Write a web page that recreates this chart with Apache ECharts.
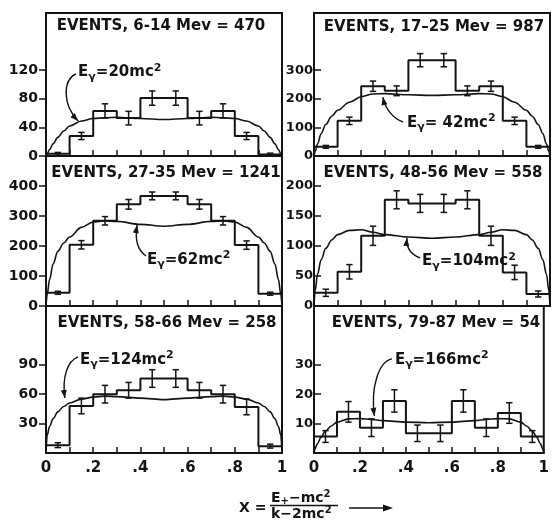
<!DOCTYPE html>
<html><head><meta charset="utf-8">
<script src="https://cdn.jsdelivr.net/npm/echarts@6/dist/echarts.min.js"></script>
<style>html,body{margin:0;padding:0;background:#fff}#c{width:552px;height:521px}</style>
</head><body><div id="c"></div>
<script>
// ---------- DATA ----------
const binEdges   = [0, 0.1, 0.2, 0.3, 0.4, 0.5, 0.6, 0.7, 0.8, 0.9, 1.0];
const binCenters = [0.05, 0.15, 0.25, 0.35, 0.45, 0.55, 0.65, 0.75, 0.85, 0.95];
const curveX     = [0, 0.005, 0.015, 0.03, 0.05, 0.075, 0.1, 0.15, 0.2, 0.25, 0.3, 0.4, 0.5,
                    0.6, 0.7, 0.75, 0.8, 0.85, 0.9, 0.925, 0.95, 0.97, 0.985, 0.995, 1];

const xTickValues  = [0.1, 0.2, 0.3, 0.4, 0.5, 0.6, 0.7, 0.8, 0.9];
const xLabelValues = [0, 0.2, 0.4, 0.6, 0.8, 1];
const xLabelTexts  = ['0', '.2', '.4', '.6', '.8', '1'];

// Panel 1: 6-14 Mev
const p1Title  = 'EVENTS, 6-14 Mev = 470';
const p1Counts = [3, 28, 63, 53, 81, 81, 53, 63, 28, 2];
const p1Errors = [2, 5, 10, 9.5, 10, 10, 9.5, 10, 5, 2];
const p1Curve  = [0, 3, 9, 17, 26, 35, 42, 49, 52.5, 53.5, 54, 52.5, 51,
                  52.5, 54, 53.5, 52.5, 49, 42, 35, 26, 17, 9, 3, 0];
const p1Max = 200, p1Ticks = [0, 40, 80, 120], p1Energy = '20';

// Panel 2: 17-25 Mev
const p2Title  = 'EVENTS, 17–25 Mev = 987';
const p2Counts = [32, 123, 244, 228, 335, 335, 228, 244, 123, 32];
const p2Errors = [5, 13, 18, 17, 23, 23, 17, 18, 13, 5];
const p2Curve  = [0, 16, 42, 78, 110, 139, 160, 188, 207, 217, 218, 214, 212,
                  214, 218, 217, 207, 188, 160, 139, 110, 78, 42, 16, 0];
const p2Max = 500, p2Ticks = [0, 100, 200, 300], p2Energy = ' 42';

// Panel 3: 27-35 Mev
const p3Title  = 'EVENTS, 27-35 Mev = 1241';
const p3Counts = [44, 204, 284, 339, 367, 367, 339, 284, 203, 41];
const p3Errors = [5, 14, 14, 16, 13, 13, 16, 14, 14, 5];
const p3Curve  = [0, 38, 88, 140, 182, 210, 230, 262, 280, 284, 282, 272, 266,
                  272, 282, 284, 280, 262, 230, 210, 182, 140, 88, 38, 0];
const p3Max = 500, p3Ticks = [0, 100, 200, 300, 400], p3Energy = '62';

// Panel 4: 48-56 Mev
const p4Title  = 'EVENTS, 48-56 Mev = 558';
const p4Counts = [22, 57, 117, 177, 171, 171, 177, 117, 56, 20];
const p4Errors = [6, 12, 16, 15, 15, 15, 15, 16, 12, 5];
const p4Curve  = [0, 26, 53, 77, 96, 110, 119, 126, 127, 123, 119, 115, 113,
                  115, 119, 123, 127, 126, 119, 110, 96, 77, 53, 26, 0];
const p4Max = 250, p4Ticks = [0, 50, 100, 150, 200], p4Energy = '104';

// Panel 5: 58-66 Mev
const p5Title  = 'EVENTS, 58-66 Mev = 258';
const p5Counts = [8, 48, 60, 64, 76, 76, 64, 60, 47, 7];
const p5Errors = [2.5, 8, 9, 8, 9, 9, 8, 9, 8, 2];
const p5Curve  = [0, 18, 27, 35, 42, 47.5, 51, 55, 57, 58, 57.5, 56, 54.5,
                  56, 57.5, 58, 57, 55, 51, 47.5, 42, 35, 27, 18, 0];
const p5Max = 150, p5Ticks = [30, 60, 90], p5Energy = '124';

// Panel 6: 79-87 Mev
const p6Title  = 'EVENTS, 79-87 Mev = 54';
const p6Counts = [5.6, 14, 8.6, 17.7, 6.7, 6.7, 17.7, 8.6, 13.6, 5.6];
const p6Errors = [2, 3.5, 3, 3.8, 2.8, 2.8, 3.8, 3, 3.5, 2];
const p6Curve  = [0, 1.5, 3.2, 5.3, 7.5, 9.2, 10.5, 11.6, 11.7, 11.4, 11, 10.5, 10.3,
                  10.5, 11, 11.4, 11.7, 11.6, 10.5, 9.2, 7.5, 5.3, 3.2, 1.5, 0];
const p6Max = 50, p6Ticks = [10, 20, 30], p6Energy = '166';

// annotation anchors in data units: text position, arrow [start, cp1, cp2, end]
const annText  = [[0.136, 117], [0.394, 115], [0.428, 153], [0.458, 74], [0.144, 95], [0.352, 31.6]];
const annArrow = [
  [[0.127, 114.7], [0.072, 106.3], [0.068, 72.7], [0.136, 49]],
  [[0.377, 118.9], [0.331, 132.9], [0.301, 167.8], [0.292, 206]],
  [[0.424, 166.7], [0.386, 186.7], [0.377, 226.7], [0.386, 270]],
  [[0.449, 80], [0.407, 86.7], [0.39, 96.7], [0.394, 113.3]],
  [[0.136, 98], [0.089, 93.9], [0.068, 76.5], [0.08, 56.1]],
  [[0.339, 32], [0.28, 31], [0.246, 22.1], [0.263, 12.6]]
];

// ---------- LAYOUT / STYLE ----------
const FONT = 'DejaVu Sans';
const INK = '#141414';
const gridPos = [
  {left: 46,  top: 13,  width: 236, height: 143},
  {left: 314, top: 13,  width: 236, height: 143},
  {left: 46,  top: 156, width: 236, height: 150},
  {left: 314, top: 156, width: 236, height: 150},
  {left: 46,  top: 306, width: 236, height: 147},
  {left: 314, top: 306, width: 236, height: 147}
];
const titlePos = [[161, 26], [434, 27], [166, 173], [433, 173], [167, 323], [436, 323]];

const panels = [
  {title: p1Title, counts: p1Counts, errors: p1Errors, curve: p1Curve, max: p1Max, ticks: p1Ticks, energy: p1Energy},
  {title: p2Title, counts: p2Counts, errors: p2Errors, curve: p2Curve, max: p2Max, ticks: p2Ticks, energy: p2Energy},
  {title: p3Title, counts: p3Counts, errors: p3Errors, curve: p3Curve, max: p3Max, ticks: p3Ticks, energy: p3Energy},
  {title: p4Title, counts: p4Counts, errors: p4Errors, curve: p4Curve, max: p4Max, ticks: p4Ticks, energy: p4Energy},
  {title: p5Title, counts: p5Counts, errors: p5Errors, curve: p5Curve, max: p5Max, ticks: p5Ticks, energy: p5Energy},
  {title: p6Title, counts: p6Counts, errors: p6Errors, curve: p6Curve, max: p6Max, ticks: p6Ticks, energy: p6Energy}
];

function histData(counts) {
  const d = [[binEdges[0], 0]];
  counts.forEach((v, i) => d.push([binEdges[i], v]));
  d.push([binEdges[counts.length], counts[counts.length - 1]]);
  return d;
}
function xLabel(v) {
  for (let i = 0; i < xLabelValues.length; i++) if (Math.abs(v - xLabelValues[i]) < 1e-6) return xLabelTexts[i];
  return '';
}

const grids = [], xAxes = [], yAxes = [], series = [];
panels.forEach((p, i) => {
  const isRight = i % 2 === 1;
  grids.push(Object.assign({show: true, borderColor: INK, borderWidth: 2, backgroundColor: 'transparent'}, gridPos[i]));
  xAxes.push({
    gridIndex: i, type: 'value', min: 0, max: 1,
    axisLine: {show: false}, splitLine: {show: false},
    axisTick: {show: true, inside: true, length: 6, customValues: xTickValues, lineStyle: {color: INK, width: 1.5}},
    axisLabel: {show: i >= 4, customValues: xLabelValues, formatter: xLabel, margin: 8,
      color: INK, fontSize: 15, fontWeight: 'bold', fontFamily: FONT}
  });
  yAxes.push({
    gridIndex: i, type: 'value', min: 0, max: p.max,
    axisLine: {show: false}, splitLine: {show: false},
    axisTick: {show: true, inside: isRight, length: 7, customValues: p.ticks, lineStyle: {color: INK, width: 1.5}},
    axisLabel: {customValues: p.ticks, margin: isRight ? 1 : 8, color: INK,
      fontSize: isRight ? 13 : 14, fontWeight: 'bold', fontFamily: FONT}
  });
  series.push({
    type: 'line', xAxisIndex: i, yAxisIndex: i, step: 'end', showSymbol: false, silent: true,
    data: histData(p.counts), lineStyle: {color: INK, width: 2}
  });
  series.push({
    type: 'line', xAxisIndex: i, yAxisIndex: i, smooth: 0.35, smoothMonotone: 'x', showSymbol: false, silent: true,
    data: curveX.map((x, k) => [x, p.curve[k]]), lineStyle: {color: INK, width: 1.6}
  });
  series.push({
    type: 'custom', xAxisIndex: i, yAxisIndex: i, silent: true,
    data: binCenters.map((x, k) => [x, p.counts[k], p.errors[k]]),
    encode: {x: 0, y: 1},
    renderItem: function (params, api) {
      const x = api.value(0), v = api.value(1), e = api.value(2);
      const t = api.coord([x, v + e]), b = api.coord([x, v - e]);
      const w = 3.2, st = {stroke: INK, lineWidth: 1.5};
      return {type: 'group', children: [
        {type: 'line', shape: {x1: t[0], y1: t[1], x2: b[0], y2: b[1]}, style: st},
        {type: 'line', shape: {x1: t[0] - w, y1: t[1], x2: t[0] + w, y2: t[1]}, style: st},
        {type: 'line', shape: {x1: b[0] - w, y1: b[1], x2: b[0] + w, y2: b[1]}, style: st}
      ]};
    }
  });
});

const chart = echarts.init(document.getElementById('c'), null, {renderer: 'canvas'});
chart.setOption({
  backgroundColor: '#fff', animation: false,
  grid: grids, xAxis: xAxes, yAxis: yAxes, series: series
});

// ---------- annotations ----------
const graphics = [];
const bold = {fontFamily: FONT, fontWeight: 'bold', fill: INK};
panels.forEach((p, i) => {
  graphics.push({type: 'text', x: titlePos[i][0], y: titlePos[i][1], z: 50,
    style: Object.assign({text: p.title, fontSize: 15, align: 'center', verticalAlign: 'middle'}, bold)});
  const conv = pt => chart.convertToPixel({gridIndex: i}, pt);
  const tp = conv(annText[i]);
  graphics.push({type: 'text', x: tp[0], y: tp[1], z: 50, style: {
    text: '{e|E}{g|γ}{t|=' + p.energy + 'mc}{s|2}', align: 'left', verticalAlign: 'middle',
    rich: {
      e: Object.assign({fontSize: 15}, bold),
      g: Object.assign({fontSize: 11, padding: [9, 0, 0, 0]}, bold),
      t: Object.assign({fontSize: 15}, bold),
      s: Object.assign({fontSize: 11, padding: [0, 0, 9, 0]}, bold)
    }
  }});
  const [s, c1, c2, e] = annArrow[i].map(conv);
  graphics.push({type: 'bezierCurve', z: 50, shape: {x1: s[0], y1: s[1], cpx1: c1[0], cpy1: c1[1], cpx2: c2[0], cpy2: c2[1], x2: e[0], y2: e[1]},
    style: {stroke: INK, lineWidth: 1.4, fill: null}});
  const ang = Math.atan2(e[1] - c2[1], e[0] - c2[0]);
  const L = 8, W = 3;
  const bx = e[0] - L * Math.cos(ang), by = e[1] - L * Math.sin(ang);
  graphics.push({type: 'polygon', z: 50, shape: {points: [[e[0], e[1]],
      [bx - W * Math.sin(ang), by + W * Math.cos(ang)], [bx + W * Math.sin(ang), by - W * Math.cos(ang)]]},
    style: {fill: INK}});
});

// x-axis title
graphics.push({type: 'text', x: 239, y: 508, style: Object.assign({text: 'X =', fontSize: 14, align: 'left', verticalAlign: 'middle'}, bold)});
graphics.push({type: 'text', x: 271, y: 498, style: {text: '{b|E}{sb|+}{b|−mc}{sp|2}', align: 'left', verticalAlign: 'middle',
  rich: {b: Object.assign({fontSize: 14}, bold), sb: Object.assign({fontSize: 10, padding: [7, 0, 0, 0]}, bold), sp: Object.assign({fontSize: 10, padding: [0, 0, 8, 0]}, bold)}}});
graphics.push({type: 'line', shape: {x1: 270, y1: 505.5, x2: 338, y2: 505.5}, style: {stroke: INK, lineWidth: 1.5}});
graphics.push({type: 'text', x: 271, y: 514, style: {text: '{b|k−2mc}{sp|2}', align: 'left', verticalAlign: 'middle',
  rich: {b: Object.assign({fontSize: 14}, bold), sp: Object.assign({fontSize: 10, padding: [0, 0, 8, 0]}, bold)}}});
graphics.push({type: 'line', shape: {x1: 349, y1: 508, x2: 386, y2: 508}, style: {stroke: INK, lineWidth: 1.5}});
graphics.push({type: 'polygon', shape: {points: [[383, 504.5], [393, 508], [383, 511.5]]}, style: {fill: INK}});

chart.setOption({graphic: graphics});
</script>
</body></html>
